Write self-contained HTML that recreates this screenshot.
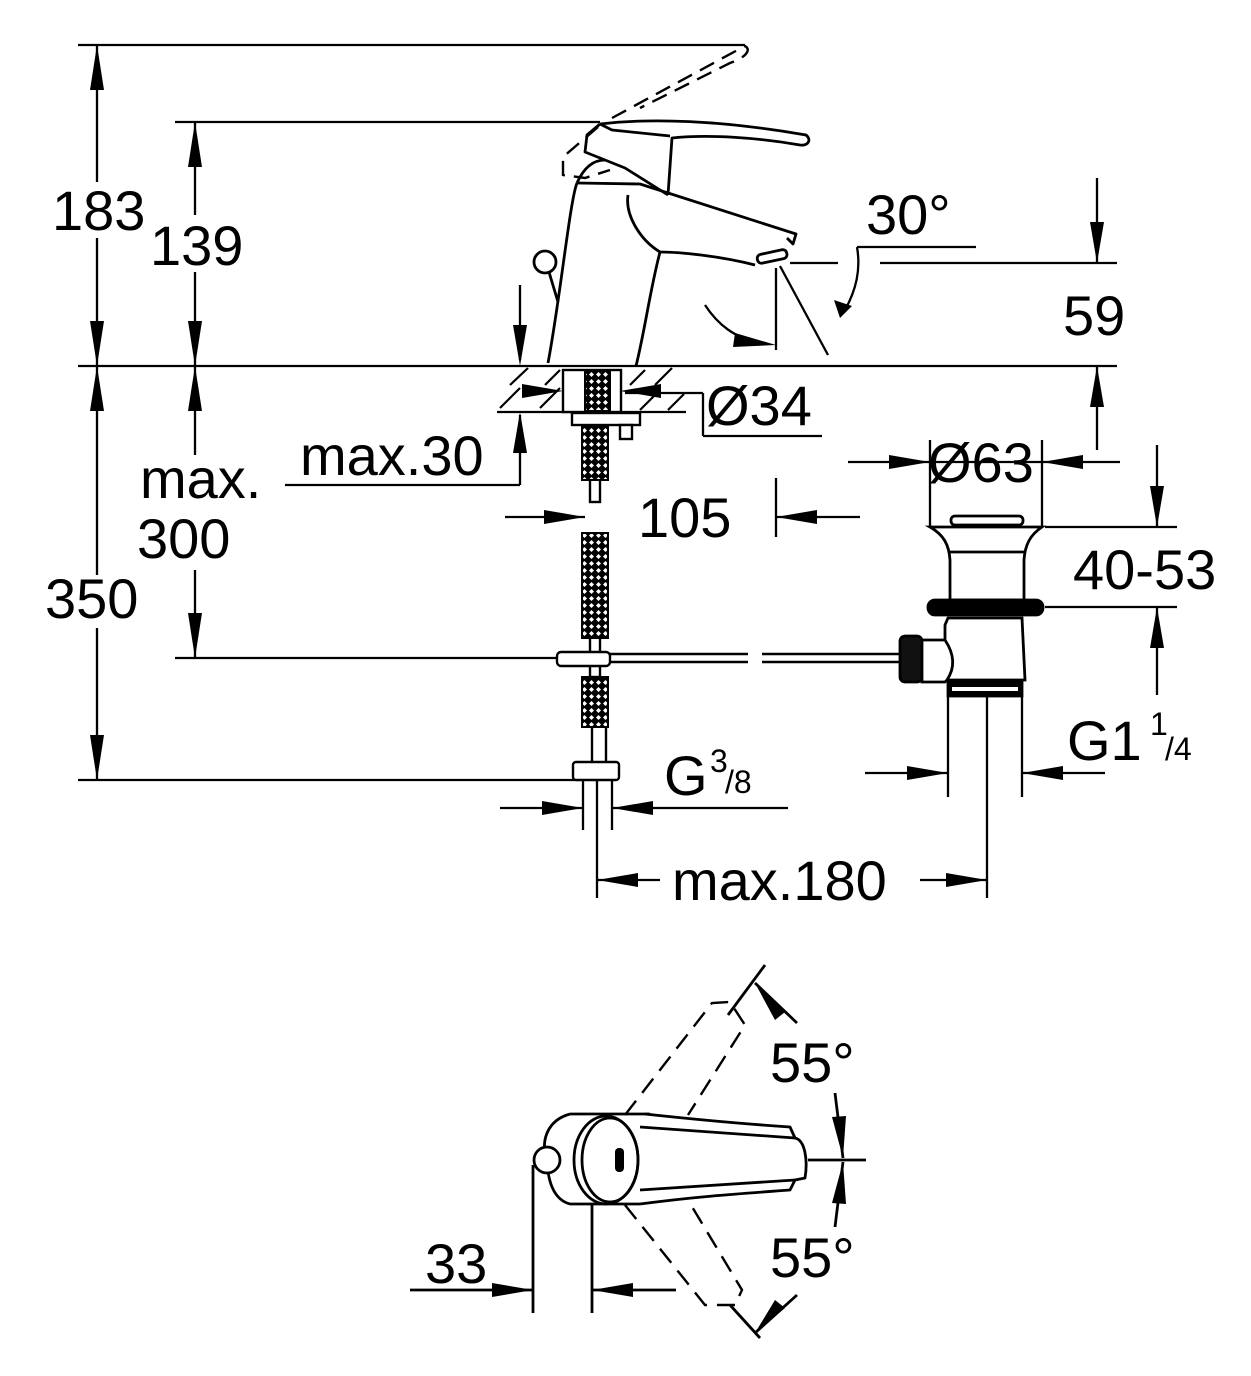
<!DOCTYPE html>
<html><head><meta charset="utf-8"><style>
html,body{margin:0;padding:0;background:#fff}
svg{display:block}
text{font-family:"Liberation Sans",Arial,sans-serif;fill:#000}
</style></head><body>
<svg width="1251" height="1376" viewBox="0 0 1251 1376" xmlns="http://www.w3.org/2000/svg">
<defs>
<pattern id="hx" width="7" height="7" patternUnits="userSpaceOnUse">
<rect width="7" height="7" fill="#000"/>
<path d="M3.5 1 L6 3.5 L3.5 6 L1 3.5Z" fill="#fff"/>
</pattern>
</defs>
<g stroke="#000" stroke-width="2.3" fill="none" stroke-linecap="butt">
<line x1="78" y1="45" x2="745" y2="45"/>
<line x1="175" y1="122" x2="600" y2="122"/>
<line x1="78" y1="366" x2="1117" y2="366"/>
<line x1="78" y1="780" x2="578" y2="780"/>
<line x1="175" y1="658" x2="560" y2="658"/>
<line x1="97" y1="45" x2="97" y2="182"/>
<line x1="97" y1="238" x2="97" y2="575"/>
<line x1="97" y1="628" x2="97" y2="780"/>
<line x1="195" y1="122" x2="195" y2="215"/>
<line x1="195" y1="272" x2="195" y2="455"/>
<line x1="195" y1="570" x2="195" y2="658"/>
<line x1="285" y1="485" x2="520" y2="485"/>
<line x1="520" y1="485" x2="520" y2="415"/>
<line x1="520" y1="285" x2="520" y2="360"/>
<line x1="497" y1="412" x2="686" y2="412"/>
<line x1="625" y1="393" x2="703" y2="393"/>
<line x1="703" y1="393" x2="703" y2="436"/>
<line x1="703" y1="436" x2="822" y2="436"/>
<line x1="790" y1="263" x2="838" y2="263"/>
<line x1="880" y1="263" x2="1117" y2="263"/>
<line x1="857" y1="247" x2="976" y2="247"/>
<path d="M857 247 C861 270 856 290 845 310"/>
<line x1="1097" y1="178" x2="1097" y2="263"/>
<line x1="1097" y1="366" x2="1097" y2="450"/>
<line x1="776" y1="268" x2="776" y2="350"/>
<line x1="780" y1="266" x2="828" y2="355"/>
<path d="M705 305 C718 325 735 338 760 343"/>
<line x1="848" y1="462" x2="1120" y2="462"/>
<line x1="930" y1="440" x2="930" y2="527"/>
<line x1="1042" y1="440" x2="1042" y2="527"/>
<line x1="505" y1="517" x2="585" y2="517"/>
<line x1="776" y1="478" x2="776" y2="537"/>
<line x1="776" y1="517" x2="860" y2="517"/>
<line x1="1045" y1="527" x2="1177" y2="527"/>
<line x1="1045" y1="607" x2="1177" y2="607"/>
<line x1="1157" y1="445" x2="1157" y2="527"/>
<line x1="1157" y1="607" x2="1157" y2="695"/>
<line x1="865" y1="773" x2="948" y2="773"/>
<line x1="1022" y1="773" x2="1105" y2="773"/>
<line x1="948" y1="697" x2="948" y2="797"/>
<line x1="1022" y1="697" x2="1022" y2="797"/>
<line x1="987" y1="675" x2="987" y2="898"/>
<line x1="500" y1="808" x2="583" y2="808"/>
<line x1="612" y1="808" x2="788" y2="808"/>
<line x1="583" y1="780" x2="583" y2="830"/>
<line x1="597" y1="780" x2="597" y2="898"/>
<line x1="612" y1="780" x2="612" y2="830"/>
<line x1="597" y1="880" x2="660" y2="880"/>
<line x1="920" y1="880" x2="987" y2="880"/>
</g>
<g fill="#000">
<polygon points="97,45 90,90 104,90"/>
<polygon points="97,366 90,321 104,321"/>
<polygon points="97,366 90,411 104,411"/>
<polygon points="97,780 90,735 104,735"/>
<polygon points="195,122 188,167 202,167"/>
<polygon points="195,366 188,321 202,321"/>
<polygon points="195,366 188,411 202,411"/>
<polygon points="195,658 188,613 202,613"/>
<polygon points="520,366 513,325 527,325"/>
<polygon points="520,412 513,453 527,453"/>
<polygon points="563,391 522,384 522,398"/>
<polygon points="620,391 661,384 661,398"/>
<polygon points="1097,263 1090,222 1104,222"/>
<polygon points="1097,366 1090,407 1104,407"/>
<polygon points="776,345 735,333 733,347"/>
<polygon points="840,318 834,300 852,306"/>
<polygon points="930,462 889,455 889,469"/>
<polygon points="1042,462 1083,455 1083,469"/>
<polygon points="585,517 544,510 544,524"/>
<polygon points="776,517 817,510 817,524"/>
<polygon points="1157,527 1150,486 1164,486"/>
<polygon points="1157,607 1150,648 1164,648"/>
<polygon points="948,773 907,766 907,780"/>
<polygon points="1022,773 1063,766 1063,780"/>
<polygon points="583,808 542,801 542,815"/>
<polygon points="612,808 653,801 653,815"/>
<polygon points="597,880 638,873 638,887"/>
<polygon points="987,880 946,873 946,887"/>
</g>
<g stroke="#000" stroke-width="2.2">
<line x1="500" y1="408" x2="520" y2="388"/><line x1="510" y1="385" x2="528" y2="368"/>
<line x1="540" y1="408" x2="560" y2="388"/><line x1="545" y1="385" x2="560" y2="370"/>
<line x1="630" y1="385" x2="645" y2="370"/><line x1="655" y1="385" x2="672" y2="368"/>
<line x1="640" y1="410" x2="658" y2="392"/><line x1="668" y1="410" x2="684" y2="394"/>
</g>
<g stroke="#000" stroke-width="2.8" fill="none" stroke-linejoin="round">
<path d="M577 183 C570 200 560 300 548 363"/>
<path d="M577 183 L640 184 L796 234 L793 244 L787 238"/>
<path d="M660 252 C650 290 645 330 636 366"/>
<path d="M660 252 C680 252 720 256 755 265"/>
<rect x="757" y="252" width="30" height="9" rx="4" transform="rotate(-12 772 256)"/>
<path d="M628 195 C625 215 640 240 660 252"/>
<path d="M600 124 C650 118 720 120 806 135 C812 140 808 146 800 145 C760 138 710 134 672 138 L668 195"/>
<path d="M600 124 L587 135 L585 152 L625 168 L668 195"/>
<path d="M600 124 L612 130 L670 136"/>
<path d="M577 183 C585 165 595 160 605 160"/>
<circle cx="545" cy="262" r="11"/>
<line x1="549" y1="272" x2="558" y2="302"/>
</g>
<g stroke="#000" stroke-width="2.4" fill="none" stroke-dasharray="16,9">
<path d="M612 118 L745 46 C752 50 745 58 730 63 L640 108"/>
<path d="M598 127 L563 157 L563 175 L585 178 L610 170"/>
</g>
<g stroke="#000" stroke-width="2.4" fill="#fff">
<rect x="563" y="370" width="58" height="42"/>
<rect x="572" y="413" width="68" height="12"/>
<rect x="620" y="425" width="12" height="14"/>
<rect x="590" y="478" width="10" height="24"/>
<rect x="590" y="637" width="10" height="40"/>
<rect x="557" y="652" width="53" height="14" rx="4"/>
<rect x="592" y="725" width="14" height="38"/>
<rect x="573" y="762" width="46" height="18" rx="3"/>
</g>
<g fill="url(#hx)" stroke="#000" stroke-width="2">
<rect x="585" y="371" width="25" height="40"/>
<rect x="582" y="425" width="26" height="55"/>
<rect x="582" y="533" width="26" height="105"/>
<rect x="582" y="677" width="26" height="50"/>
</g>
<g stroke="#000" stroke-width="2.4">
<line x1="610" y1="654" x2="748" y2="654"/><line x1="610" y1="662" x2="748" y2="662"/>
<line x1="762" y1="654" x2="900" y2="654"/><line x1="762" y1="662" x2="900" y2="662"/>
</g>
<g stroke="#000" stroke-width="2.8" fill="#fff">
<rect x="900" y="636" width="22" height="46" rx="5" fill="#111"/>
<path d="M922 640 L945 640 L945 625 L948 618 L1022 618 L1025 680 L947 680 L945 682 L922 682Z"/>
<path d="M945 640 C955 655 955 668 947 680" fill="none"/>
<path d="M930 527 L1042 527 C1030 535 1025 545 1024 560 L1024 600 L950 600 L950 560 C949 545 944 535 930 527Z"/>
<line x1="950" y1="552" x2="1024" y2="552"/>
<rect x="951" y="516" width="72" height="9" rx="4"/>
<rect x="928" y="600" width="115" height="15" rx="7" fill="#000"/>
<rect x="948" y="682" width="74" height="14" fill="#000"/>
<rect x="952" y="687" width="66" height="4" fill="#fff" stroke="none"/>
</g>
<g stroke="#000" stroke-width="2.8" fill="none" stroke-linejoin="round">
<path d="M570 1114 C548 1120 540 1140 547 1160 C548 1185 555 1200 570 1204"/>
<line x1="570" y1="1114" x2="650" y2="1114"/>
<line x1="570" y1="1204" x2="640" y2="1204"/>
<path d="M645 1114 C700 1120 760 1125 790 1127 L795 1138 C805 1140 808 1160 805 1178 L795 1180 L790 1190 C750 1193 700 1196 640 1204"/>
<path d="M640 1127 L795 1138 M640 1190 L795 1180"/>
<ellipse cx="610" cy="1160" rx="28" ry="42"/>
<ellipse cx="606" cy="1160" rx="32" ry="44"/>
<circle cx="547" cy="1160" r="13" fill="#fff"/>
<line x1="533" y1="1165" x2="533" y2="1313"/>
<line x1="592" y1="1204" x2="592" y2="1313"/>
<line x1="410" y1="1290" x2="533" y2="1290"/>
<line x1="592" y1="1290" x2="676" y2="1290"/>
<line x1="808" y1="1160" x2="866" y2="1160"/>
<line x1="835" y1="1093" x2="843" y2="1158"/>
<line x1="835" y1="1227" x2="843" y2="1162"/>
<line x1="728" y1="1015" x2="765" y2="965"/>
<line x1="755" y1="983" x2="797" y2="1023"/>
<line x1="730" y1="1305" x2="760" y2="1338"/>
<line x1="755" y1="1333" x2="797" y2="1295"/>
</g>
<rect x="615" y="1148" width="9" height="24" rx="4" fill="#000"/>
<g stroke="#000" stroke-width="2.4" fill="none" stroke-dasharray="18,10">
<path d="M625 1115 L712 1003 L730 1002 L745 1025 L688 1115"/>
<path d="M625 1205 L705 1305 L735 1305 L742 1290 L688 1200"/>
</g>
<g fill="#000">
<polygon points="533,1290 492,1283 492,1297"/>
<polygon points="592,1290 633,1283 633,1297"/>
<polygon points="843,1158 832,1117 846,1116"/>
<polygon points="843,1162 832,1203 846,1204"/>
<polygon points="755,983 785,1012 775,1020"/>
<polygon points="755,1333 775,1300 785,1308"/>
</g>
<g font-size="56">
<text x="52" y="230">183</text>
<text x="150" y="265">139</text>
<text x="140" y="498">max.</text>
<text x="137" y="558">300</text>
<text x="45" y="618">350</text>
<text x="300" y="475">max.30</text>
<text x="706" y="425">Ø34</text>
<text x="866" y="234">30°</text>
<text x="1063" y="335">59</text>
<text x="928" y="482">Ø63</text>
<text x="638" y="537">105</text>
<text x="1073" y="589">40-53</text>
<text x="1067" y="760">G1</text>
<text x="664" y="795">G</text>
<text x="672" y="900">max.180</text>
<text x="770" y="1082">55°</text>
<text x="770" y="1277">55°</text>
<text x="425" y="1283">33</text>
</g>
<g font-size="32">
<text x="1150" y="735">1</text><text x="1165" y="760">/4</text>
<text x="710" y="772">3</text><text x="725" y="793">/8</text>
</g>
</svg>
</body></html>
